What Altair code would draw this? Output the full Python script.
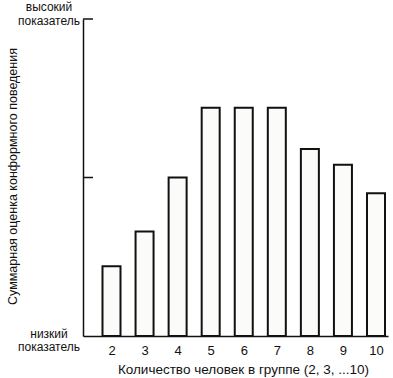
import altair as alt
import pandas as pd

group_sizes = [2, 3, 4, 5, 6, 7, 8, 9, 10]
scores = [22, 33, 50, 72, 72, 72, 59, 54, 45]
tick_values = [100, 50]
top_lines = ["высокий", "показатель"]
bottom_lines = ["низкий", "показатель"]
x_title = "Количество человек в группе (2, 3, ...10)"
y_title = "Суммарная оценка конформного поведения"

FONT = "Liberation Sans"
INK = "#111111"

bars_df = pd.DataFrame({"n": group_sizes, "score": scores})
ticks_df = pd.DataFrame({"v": tick_values})

xscale = alt.Scale(domain=[1.138, 10.363], nice=False, zero=False, padding=0)
yscale = alt.Scale(domain=[0, 100], nice=False, padding=0)

bars = alt.Chart(bars_df).mark_bar(
    size=18, fill="#fbfbfa", stroke=INK, strokeWidth=2
).encode(
    x=alt.X("n:Q", scale=xscale, axis=alt.Axis(
        values=group_sizes, ticks=False, grid=False, domainColor=INK,
        domainWidth=1.5, labelFont=FONT, labelFontSize=13, labelColor=INK,
        labelPadding=8, title=x_title, titleFont=FONT, titleFontSize=13.5,
        titleFontWeight="normal", titleColor=INK, titleX=160, titleY=33,
        titleBaseline="middle", titleAlign="center")),
    y=alt.Y("score:Q", scale=yscale, axis=alt.Axis(
        ticks=False, labels=False, grid=False, domainColor=INK,
        domainWidth=1.5, title=y_title, titleFont=FONT, titleFontSize=12.5,
        titleFontWeight="normal", titleColor=INK, titleX=-71, titleY=157,
        titleAngle=270, titleBaseline="middle", titleAlign="center")),
)

tick_rules = alt.Chart(ticks_df).mark_rule(color=INK, strokeWidth=1.5).encode(
    y=alt.Y("v:Q", scale=yscale),
    x=alt.value(0),
    x2=alt.value(10),
)


def label(text, yv, dy):
    df = pd.DataFrame({"t": [text], "v": [yv]})
    return alt.Chart(df).mark_text(
        font=FONT, fontSize=12, color=INK, align="center",
        baseline="middle", dy=dy
    ).encode(y=alt.Y("v:Q", scale=yscale), x=alt.value(-34), text="t:N")


labels = [
    label(top_lines[0], 100, -12),
    label(top_lines[1], 100, 1.5),
    label(bottom_lines[0], 0, -2.5),
    label(bottom_lines[1], 0, 11),
]

chart = alt.layer(bars, tick_rules, *labels).properties(
    width=305, height=317,
    autosize=alt.AutoSizeParams(type="none"),
    padding={"left": 83, "top": 19, "right": 5, "bottom": 42},
).configure_view(stroke=None)

chart.save("out.html", embed_options={"renderer": "svg", "actions": False})
